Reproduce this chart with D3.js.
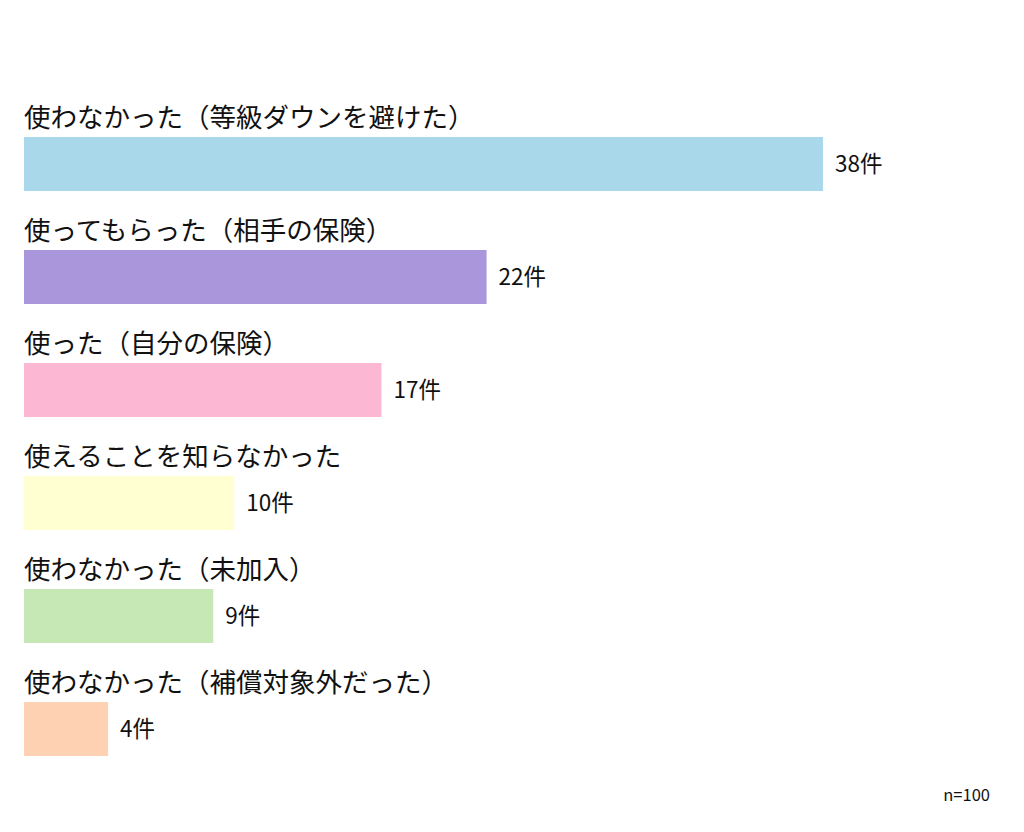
<!DOCTYPE html>
<html>
<head>
<meta charset="utf-8">
<script src="https://cdn.jsdelivr.net/npm/d3@7"></script>
<style>
  body { margin: 0; background: #fff; }
  text { font-family: "Noto Sans CJK JP", "Noto Sans", sans-serif; fill: #111; }
</style>
</head>
<body>
<div id="chart"></div>
<script>
let categories = [
  "使わなかった（等級ダウンを避けた）",
  "使ってもらった（相手の保険）",
  "使った（自分の保険）",
  "使えることを知らなかった",
  "使わなかった（未加入）",
  "使わなかった（補償対象外だった）"
];
let values = [38, 22, 17, 10, 9, 4];
let colors = ["#a8d8ea", "#aa96da", "#fcb8d2", "#ffffd2", "#c6e8b4", "#ffd1b3"];
let unit = "件";
let note = "n=100";

let width = 1024, height = 832;
let marginLeft = 24, marginTop = 137, step = 113, barH = 54;

let svg = d3.select("#chart")
  .append("svg")
  .attr("width", width)
  .attr("height", height);

let x = d3.scaleLinear()
  .domain([0, 38])
  .range([marginLeft, 823]);

let y = d3.scaleBand()
  .domain(categories)
  .range([marginTop, marginTop + step * categories.length])
  .paddingInner(0)
  .paddingOuter(0);

let g = svg.selectAll("g.row")
  .data(values)
  .enter()
  .append("g")
  .attr("class", "row");

g.append("rect")
  .attr("x", x(0))
  .attr("y", function (d, i) { return y(categories[i]); })
  .attr("width", function (d) { return x(d) - x(0); })
  .attr("height", barH)
  .style("fill", function (d, i) { return colors[i]; });

g.append("text")
  .attr("x", marginLeft)
  .attr("y", function (d, i) { return y(categories[i]) - 10; })
  .style("font-size", "26.5px")
  .text(function (d, i) { return categories[i]; });

g.append("text")
  .attr("x", function (d) { return x(d) + 12; })
  .attr("y", function (d, i) { return y(categories[i]) + barH / 2 + 8; })
  .style("font-size", "22.5px")
  .text(function (d) { return d + unit; });

svg.append("text")
  .attr("x", 990)
  .attr("y", 801)
  .attr("text-anchor", "end")
  .style("font-size", "16.5px")
  .text(note);
</script>
</body>
</html>
